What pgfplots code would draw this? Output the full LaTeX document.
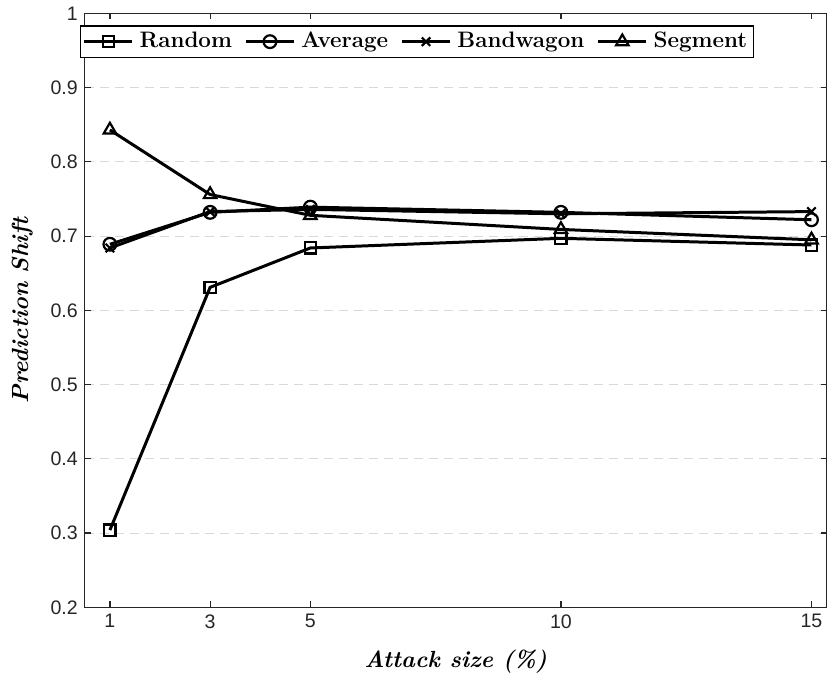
\documentclass[border=0pt]{standalone}
\usepackage{fontspec}
\usepackage{pgfplots}
\pgfplotsset{compat=1.18}
\newfontfamily\arial{Liberation Sans}
\definecolor{axgray}{gray}{0.15}
\definecolor{gridgray}{gray}{0.85}

\begin{document}
\begin{tikzpicture}
\begin{axis}[
    scale only axis,
    width=371.5pt, height=297.5pt,
    xmin=0.5, xmax=15.3,
    ymin=0.2, ymax=1,
    xtick={1,3,5,10,15},
    xticklabels={1,3,5,10,15},
    ytick={0.2,0.3,0.4,0.5,0.6,0.7,0.8,0.9,1},
    yticklabels={0.2,0.3,0.4,0.5,0.6,0.7,0.8,0.9,1},
    ticklabel style={font=\arial\fontsize{9.8}{11}\selectfont, text=axgray},
    axis line style={axgray, line width=0.6pt},
    tick style={axgray, line width=0.6pt},
    tick align=inside,
    major tick length=3pt,
    ymajorgrids=true,
    grid style={gridgray, dash pattern=on 4.5pt off 3pt, line width=0.5pt},
    xlabel={\bfseries\itshape Attack size (\%)},
    ylabel={\bfseries\itshape Prediction Shift},
    label style={font=\fontsize{11.7}{14}\selectfont},
    xlabel style={yshift=-4pt},
    ylabel style={yshift=2pt},
    legend columns=-1,
    legend style={at={(rel axis cs:0,1)}, anchor=north west,
        xshift=-2.5pt, yshift=-6pt,
        font=\bfseries\fontsize{11.2}{13.5}\selectfont,
        draw=black, line width=0.6pt, inner sep=1.2pt,
        /tikz/every odd column/.append style={column sep=1pt},
        /tikz/every even column/.append style={column sep=4.3pt}},
    legend image code/.code={\draw[mark repeat=2, mark phase=2]
        plot coordinates {(0cm,0cm) (0.42cm,0cm) (0.84cm,0cm)};},
    every axis plot/.append style={black, line width=1.5pt,
        mark options={solid, line width=1.1pt}},
]

\addplot[mark=square, mark size=2.8pt] coordinates {
    (1,0.304)(3,0.631)(5,0.684)(10,0.697)(15,0.688)
};
\addplot[mark=o, mark size=3.2pt] coordinates {
    (1,0.689)(3,0.732)(5,0.739)(10,0.732)(15,0.722)
};
\addplot[mark=x, mark size=3pt] coordinates {
    (1,0.684)(3,0.733)(5,0.736)(10,0.730)(15,0.733)
};
\addplot[mark=triangle, mark size=3.6pt] coordinates {
    (1,0.843)(3,0.756)(5,0.728)(10,0.709)(15,0.695)
};
\legend{Random, Average, Bandwagon, Segment}

\end{axis}
\path (-42.5pt,-34.5pt) (372pt,304pt);
\end{tikzpicture}
\end{document}
